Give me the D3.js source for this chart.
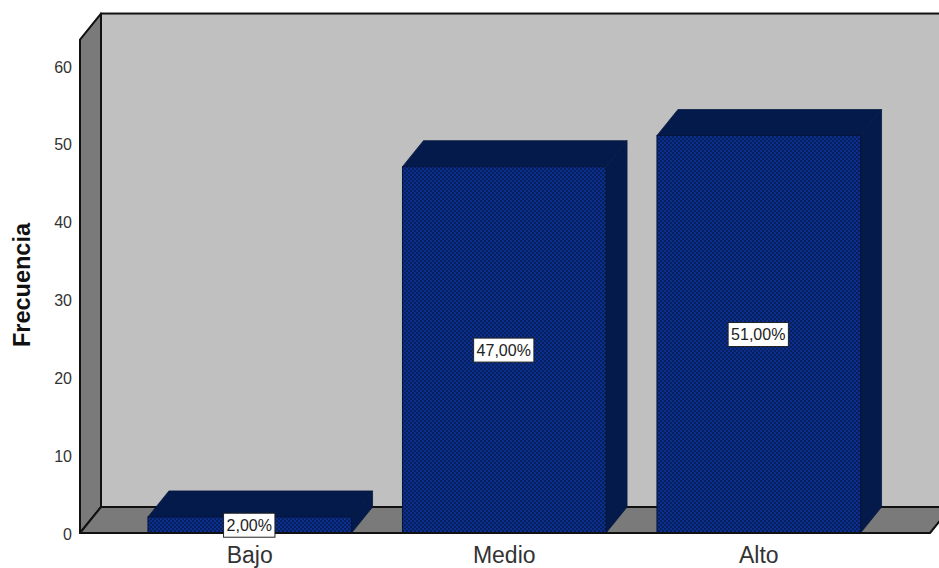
<!DOCTYPE html>
<html><head><meta charset="utf-8">
<script src="https://cdnjs.cloudflare.com/ajax/libs/d3/7.8.5/d3.min.js"></script>
<style>html,body{margin:0;padding:0;background:#fff}svg{display:block}text{font-family:"Liberation Sans",Arial,sans-serif}</style>
</head><body><svg id="c" width="939" height="568"></svg>
<script>
const categories = ["Bajo","Medio","Alto"];
const frequencies = [2,47,51];
const percentLabels = ["2,00%","47,00%","51,00%"];
const yTicks = [0,10,20,30,40,50,60];
const yTitle = "Frecuencia";

const svg = d3.select("#c");
const dx = 21, dy = -26;
const y = d3.scaleLinear().domain([0,60]).range([533,66]);
const x = d3.scaleBand().domain(categories).range([122.5,886]).paddingInner(0.2).paddingOuter(0.1);
const axisLeft = 80, floorRight = 930, yTop = y(63.4);
const poly = pts => pts.map(p=>p.join(",")).join(" ");

const defs = svg.append("defs");
const pat = defs.append("pattern").attr("id","dots").attr("width",4).attr("height",4).attr("patternUnits","userSpaceOnUse");
pat.append("rect").attr("width",4).attr("height",4).attr("fill","#0c2e8c");
pat.append("rect").attr("x",0).attr("y",0).attr("width",2).attr("height",2).attr("fill","#061f5e");
pat.append("rect").attr("x",2).attr("y",2).attr("width",2).attr("height",2).attr("fill","#061f5e");

// back wall
svg.append("rect").attr("x",axisLeft+dx).attr("y",yTop+dy).attr("width",939-axisLeft-dx+2).attr("height",y(0)-yTop)
  .attr("fill","#c0c0c0").attr("stroke","#111").attr("stroke-width",2);
// side wall
svg.append("polygon").attr("points",poly([[axisLeft,yTop],[axisLeft+dx,yTop+dy],[axisLeft+dx,y(0)+dy],[axisLeft,y(0)]]))
  .attr("fill","#7a7a7a").attr("stroke","#111").attr("stroke-width",2).attr("stroke-linejoin","round");
// floor
svg.append("polygon").attr("points",poly([[axisLeft,y(0)],[axisLeft+dx,y(0)+dy],[floorRight+dx,y(0)+dy],[floorRight,y(0)]]))
  .attr("fill","#7a7a7a").attr("stroke","#111").attr("stroke-width",2).attr("stroke-linejoin","round");

// bars
const bars = svg.append("g").selectAll("g").data(categories).join("g");
bars.each(function(c,i){
  const g = d3.select(this), x0 = x(c), x1 = x0 + x.bandwidth(), yt = y(frequencies[i]) - 0.5, yb = y(0);
  g.append("polygon").attr("points",poly([[x0,yt],[x0+dx,yt+dy],[x1+dx,yt+dy],[x1,yt]]))
    .attr("fill","#041a4a").attr("stroke","#0a1a40").attr("stroke-width",0.8);
  g.append("polygon").attr("points",poly([[x1,yt],[x1+dx,yt+dy],[x1+dx,yb+dy],[x1,yb]]))
    .attr("fill","#041a4a").attr("stroke","#0a1a40").attr("stroke-width",0.8);
  g.append("rect").attr("x",x0).attr("y",yt).attr("width",x.bandwidth()).attr("height",yb-yt)
    .attr("fill","url(#dots)").attr("stroke","#04143c").attr("stroke-width",1);
});

// front axis baseline
svg.append("line").attr("x1",axisLeft-1).attr("x2",floorRight).attr("y1",y(0)).attr("y2",y(0)).attr("stroke","#111").attr("stroke-width",2);

// value labels
const labels = svg.append("g").selectAll("g").data(categories).join("g");
labels.each(function(c,i){
  const cx = x(c)+x.bandwidth()/2 - 0.5, cy = y(frequencies[i]/2);
  const g = d3.select(this);
  const t = g.append("text").attr("x",cx).attr("y",cy+5.5).attr("text-anchor","middle").attr("font-size",16).attr("fill","#222").text(percentLabels[i]);
  const w = t.node().getComputedTextLength()+6;
  g.insert("rect","text").attr("x",cx-w/2).attr("y",cy-12).attr("width",w).attr("height",24)
    .attr("fill","#fff").attr("stroke","#222").attr("stroke-width",1);
});

// y axis tick labels
const yAxis = d3.axisLeft(y).tickValues(yTicks).tickSize(0).tickPadding(0).tickFormat(d3.format("d"));
const gy = svg.append("g").attr("transform","translate(72,1)").call(yAxis);
gy.select(".domain").remove();
gy.selectAll("text").attr("font-size",16).attr("fill","#333").style("font-family",'"Liberation Sans",Arial,sans-serif');

// x axis labels
const xAxis = d3.axisBottom(x).tickSize(0).tickPadding(0);
const gx = svg.append("g").attr("transform","translate(0,547)").call(xAxis);
gx.select(".domain").remove();
gx.selectAll("text").attr("font-size",23).attr("fill","#333").style("font-family",'"Liberation Sans",Arial,sans-serif');

// y title
svg.append("text").attr("transform","translate(30,285) rotate(-90)").attr("text-anchor","middle")
  .attr("font-size",23.5).attr("font-weight","bold").attr("fill","#111").text(yTitle);
</script></body></html>
